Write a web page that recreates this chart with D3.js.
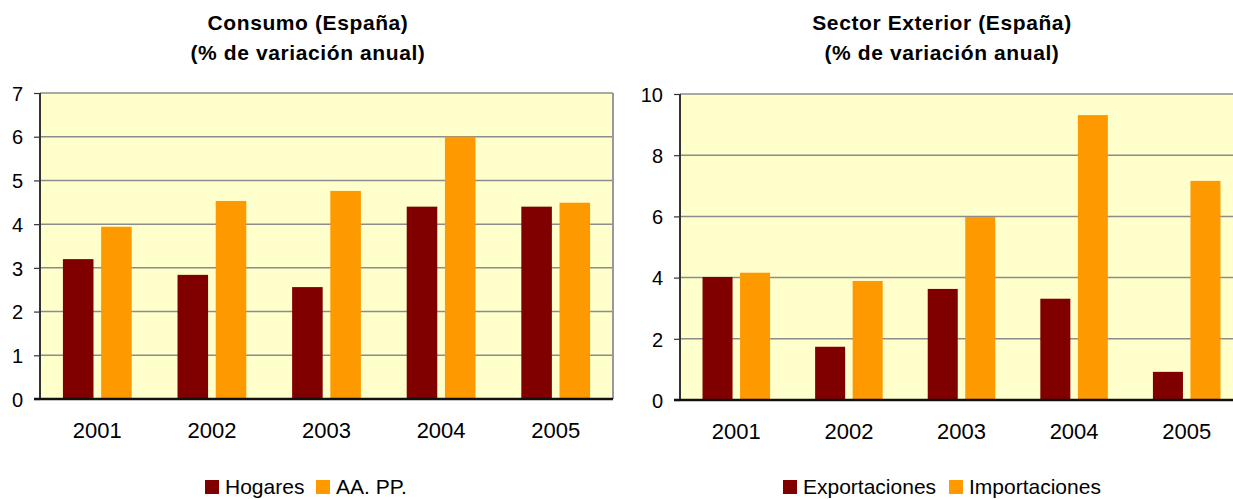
<!DOCTYPE html>
<html>
<head>
<meta charset="utf-8">
<script src="https://cdn.jsdelivr.net/npm/d3@7"></script>
<style>
  body { margin: 0; background: #fff; }
  svg { display: block; font-family: 'Liberation Sans', Arial, sans-serif; }
</style>
</head>
<body>
<script>
const years = ['2001', '2002', '2003', '2004', '2005']

const hogares = [3.2, 2.84, 2.56, 4.4, 4.4]
const aapp = [3.94, 4.53, 4.76, 6.0, 4.49]

const exportaciones = [4.02, 1.74, 3.63, 3.31, 0.92]
const importaciones = [4.16, 3.89, 5.98, 9.31, 7.16]

const consumoTicks = [0, 1, 2, 3, 4, 5, 6, 7]
const exteriorTicks = [0, 2, 4, 6, 8, 10]

const colors = ['#800000', '#ff9900']
const font = "'Liberation Sans', Arial, sans-serif"

const svg = d3.select('body')
  .append('svg')
  .attr('width', 1233)
  .attr('height', 499)

// one panel: titles, plot area, bars, axes, legend
const drawPanel = function (opt) {
  const g = svg.append('g')
  const w = opt.right - opt.left
  const h = opt.bottom - opt.top

  const x0 = d3.scaleBand()
    .domain(years)
    .range([opt.left, opt.right])
  const x1 = d3.scaleBand()
    .domain([0, 1])
    .range([0, x0.bandwidth()])
    .paddingInner(0.2)
    .paddingOuter(0.6)
  const y = d3.scaleLinear()
    .domain([0, d3.max(opt.ticks)])
    .range([opt.bottom, opt.top])

  g.append('rect')
    .attr('x', opt.left)
    .attr('y', opt.top)
    .attr('width', w)
    .attr('height', h)
    .attr('fill', '#ffffcc')

  // grid lines
  g.selectAll('line.grid')
    .data(opt.ticks.slice(1))
    .enter()
    .append('line')
    .attr('class', 'grid')
    .attr('x1', opt.left)
    .attr('x2', opt.right)
    .attr('y1', d => y(d))
    .attr('y2', d => y(d))
    .attr('stroke', '#8c8c8c')
    .attr('stroke-width', 1.5)

  // right border
  g.append('line')
    .attr('x1', opt.right).attr('x2', opt.right)
    .attr('y1', opt.top).attr('y2', opt.bottom)
    .attr('stroke', '#999')
    .attr('stroke-width', 2)

  const rows = years.map((yr, i) => ({ year: yr, vals: [opt.series[0][i], opt.series[1][i]] }))

  g.selectAll('g.year')
    .data(rows)
    .enter()
    .append('g')
    .attr('transform', d => `translate(${x0(d.year)},0)`)
    .selectAll('rect')
    .data(d => d.vals)
    .enter()
    .append('rect')
    .attr('x', (d, i) => x1(i))
    .attr('width', x1.bandwidth())
    .attr('y', d => y(d))
    .attr('height', d => opt.bottom - y(d))
    .attr('fill', (d, i) => colors[i])

  // y axis
  const yAxis = d3.axisLeft(y)
    .tickValues(opt.ticks)
    .tickFormat(d3.format('d'))
    .tickSize(6)
    .tickPadding(11)
  const ya = g.append('g')
    .attr('transform', `translate(${opt.left},0)`)
    .call(yAxis)
  ya.select('.domain').remove()
  ya.append('line')
    .attr('y1', opt.top).attr('y2', opt.bottom)
    .attr('stroke', '#333')
    .attr('stroke-width', 2)
  ya.selectAll('.tick line').attr('stroke', '#333').attr('stroke-width', 1.2)
  ya.selectAll('.tick text')
    .attr('font-size', '20px')
    .attr('font-family', font)
    .attr('fill', '#000')
    .attr('dy', '0.36em')

  // x axis
  const xAxis = d3.axisBottom(x0).tickSize(0).tickPadding(23)
  const xa = g.append('g')
    .attr('transform', `translate(0,${opt.bottom})`)
    .call(xAxis)
  xa.select('.domain').remove()
  xa.append('line')
    .attr('x1', opt.left - 6).attr('x2', opt.right)
    .attr('stroke', '#111')
    .attr('stroke-width', 2.5)
  xa.selectAll('.tick text')
    .attr('font-size', '22px')
    .attr('font-family', font)
    .attr('fill', '#000')

  // titles
  g.selectAll('text.title')
    .data(opt.title)
    .enter()
    .append('text')
    .attr('class', 'title')
    .attr('x', opt.titleX)
    .attr('y', (d, i) => 30 + i * 30)
    .attr('text-anchor', 'middle')
    .attr('font-weight', 'bold')
    .attr('font-size', '21px')
    .attr('letter-spacing', '0.6px')
    .text(d => d)

  // legend
  const lg = g.selectAll('g.legend')
    .data(opt.names)
    .enter()
    .append('g')
    .attr('transform', (d, i) => `translate(${opt.legendX[i]},0)`)
  lg.append('rect')
    .attr('x', 0)
    .attr('y', 480)
    .attr('width', 14)
    .attr('height', 14)
    .attr('fill', (d, i) => colors[i])
  lg.append('text')
    .attr('x', 20)
    .attr('y', 494)
    .attr('font-size', '21px')
    .text(d => d)
}

drawPanel({
  left: 40, right: 613, top: 93, bottom: 399,
  ticks: consumoTicks,
  series: [hogares, aapp],
  names: ['Hogares', 'AA. PP.'],
  title: ['Consumo (España)', '(% de variación anual)'],
  titleX: 308,
  legendX: [205, 316]
})

drawPanel({
  left: 680, right: 1243, top: 94, bottom: 400,
  ticks: exteriorTicks,
  series: [exportaciones, importaciones],
  names: ['Exportaciones', 'Importaciones'],
  title: ['Sector Exterior (España)', '(% de variación anual)'],
  titleX: 942,
  legendX: [783, 949]
})
</script>
</body>
</html>
